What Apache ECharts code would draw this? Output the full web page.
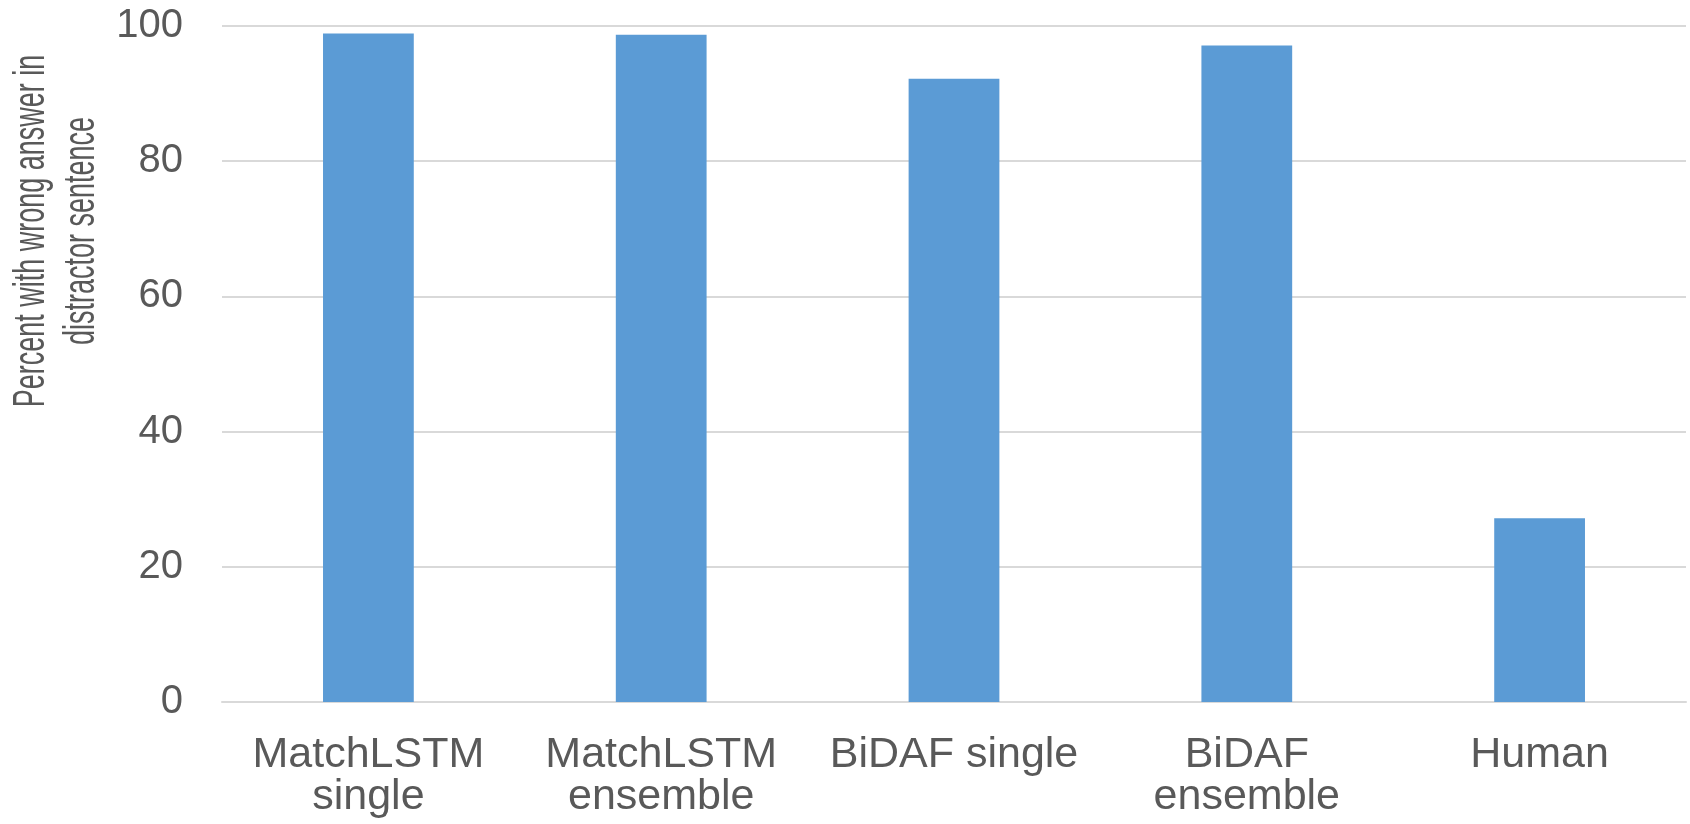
<!DOCTYPE html>
<html>
<head>
<meta charset="utf-8">
<script src="https://cdn.jsdelivr.net/npm/echarts@6/dist/echarts.min.js"></script>
<style>
  html, body { margin: 0; padding: 0; background: #ffffff; }
  #chart { width: 1690px; height: 824px; }
</style>
</head>
<body>
<div id="chart"></div>
<script>
// Models compared, and share of wrong answers that came from the distractor sentence
const categories = ['MatchLSTM\nsingle', 'MatchLSTM\nensemble', 'BiDAF single', 'BiDAF\nensemble', 'Human'];
const percentWrongInDistractor = [98.9, 98.7, 92.2, 97.1, 27.2];
const yTicks = [0, 20, 40, 60, 80, 100];
const yTitle = 'Percent with wrong answer in\ndistractor sentence';

const FONT = '"Liberation Sans", Arial, Helvetica, sans-serif';
const TEXT = '#595959';
const GRID = '#d9d9d9';

const chart = echarts.init(document.getElementById('chart'));
chart.setOption({
  animation: false,
  backgroundColor: '#ffffff',
  grid: { left: 222, right: 4, top: 26, bottom: 122, containLabel: false, outerBoundsMode: 'none' },
  xAxis: {
    type: 'category',
    data: categories,
    axisLine: { show: true, lineStyle: { color: GRID, width: 2 } },
    axisTick: { show: false },
    axisLabel: {
      color: TEXT, fontFamily: FONT, fontSize: 43, lineHeight: 42,
      margin: 32, interval: 0, align: 'center'
    }
  },
  yAxis: {
    type: 'value',
    min: yTicks[0],
    max: yTicks[yTicks.length - 1],
    interval: yTicks[1] - yTicks[0],
    axisLine: { show: false },
    axisTick: { show: false },
    splitLine: { show: true, lineStyle: { color: GRID, width: 2 } },
    axisLabel: { color: TEXT, fontFamily: FONT, fontSize: 40, margin: 39, padding: [3, 0, 0, 0] }
  },
  // Two-line vertical axis title, set in a narrow width
  graphic: [{
    type: 'text',
    x: 57,
    y: 231,
    rotation: Math.PI / 2,
    scaleX: 0.613,
    style: {
      text: yTitle,
      font: '44px ' + FONT,
      fill: TEXT,
      align: 'center',
      verticalAlign: 'middle',
      lineHeight: 50
    }
  }],
  series: [{
    type: 'bar',
    data: percentWrongInDistractor,
    barWidth: '31%',
    itemStyle: { color: '#5b9bd5' }
  }]
});
</script>
</body>
</html>
